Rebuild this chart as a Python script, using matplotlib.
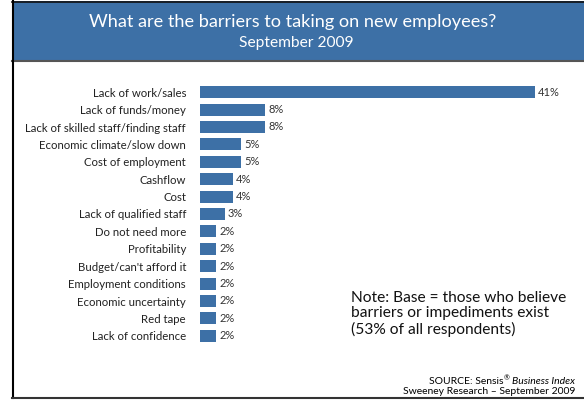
import matplotlib.pyplot as plt
from matplotlib.patches import Rectangle
from matplotlib.lines import Line2D
from matplotlib.transforms import IdentityTransform

plt.rcParams['font.family'] = ['Lato', 'DejaVu Sans']

barriers = ['Lack of work/sales', 'Lack of funds/money', 'Lack of skilled staff/finding staff',
            'Economic climate/slow down', 'Cost of employment', 'Cashflow', 'Cost',
            'Lack of qualified staff', 'Do not need more', 'Profitability',
            "Budget/can't afford it", 'Employment conditions', 'Economic uncertainty',
            'Red tape', 'Lack of confidence']
share = [41, 8, 8, 5, 5, 4, 4, 3, 2, 2, 2, 2, 2, 2, 2]

title = 'What are the barriers to taking on new employees?'
subtitle = 'September 2009'
note = 'Note: Base = those who believe\nbarriers or impediments exist\n(53% of all respondents)'

blue = '#3D70A6'
W, H = 584, 400

fig = plt.figure(figsize=(W / 100, H / 100), dpi=100)
px = IdentityTransform()  # pixel coordinates, origin bottom-left

# header band and frame lines
fig.patches.append(Rectangle((12 / W, 1 - 60 / H), 1, 59 / H, transform=fig.transFigure,
                             facecolor=blue, edgecolor='none', zorder=0))
fig.lines.append(Line2D([12 / W, 1], [1 - 60.5 / H] * 2, transform=fig.transFigure,
                        color='#555555', lw=1.5))
fig.lines.append(Line2D([12 / W, 1], [1 - 1.5 / H] * 2, transform=fig.transFigure,
                        color='#111111', lw=1.2))
fig.lines.append(Line2D([12.5 / W] * 2, [1 - 1 / H, 1 - 398 / H], transform=fig.transFigure,
                        color='black', lw=1.5))
fig.lines.append(Line2D([12 / W, 1], [1 - 397.5 / H] * 2, transform=fig.transFigure,
                        color='#333333', lw=1.5))

fig.text(293 / W, 1 - 22 / H, title, color='white', fontsize=13.1, ha='center', va='center')
fig.text(296 / W, 1 - 43.5 / H, subtitle, color='white', fontsize=11.2, ha='center', va='center')

# bar area: 0..41 spans x=200..535 px, rows from y=92 to y=336
ax = fig.add_axes([200 / W, 1 - 344.5 / H, 335 / W, 261 / H])
ypos = list(range(len(barriers)))
ax.barh(ypos, share, height=0.68, color=blue)
ax.set_xlim(0, 41)
ax.set_ylim(len(barriers) - 0.5, -0.5)
ax.set_yticks(ypos)
ax.set_yticklabels(barriers, fontsize=8.2, color='#222222')
ax.tick_params(axis='y', length=0, pad=10)
ax.set_xticks([])
for s in ax.spines.values():
    s.set_visible(False)
for y, v in zip(ypos, share):
    ax.text(v + 0.4, y, f'{v}%', va='center', ha='left', fontsize=8, color='#333333')

fig.text(351 / W, 1 - 314 / H, note, fontsize=11.2, color='#111111', ha='left', va='center',
         linespacing=1.15)

# source line: plain text, registered mark, italic name, right aligned at x=575
r = fig.canvas.get_renderer()
t_it = fig.text(575, H - 381, 'Business Index', fontsize=7.5, style='italic',
                ha='right', va='center', transform=px)
x_reg = t_it.get_window_extent(r).x0 - 2.5
t_reg = fig.text(x_reg, H - 378, '\u00ae', fontsize=5, ha='right', va='center', transform=px)
fig.text(t_reg.get_window_extent(r).x0, H - 381, 'SOURCE: Sensis', fontsize=7.5,
         ha='right', va='center', transform=px)
fig.text(575, H - 391, 'Sweeney Research \u2013 September 2009', fontsize=7.5,
         ha='right', va='center', transform=px)

fig.savefig('out.png', dpi=100)
